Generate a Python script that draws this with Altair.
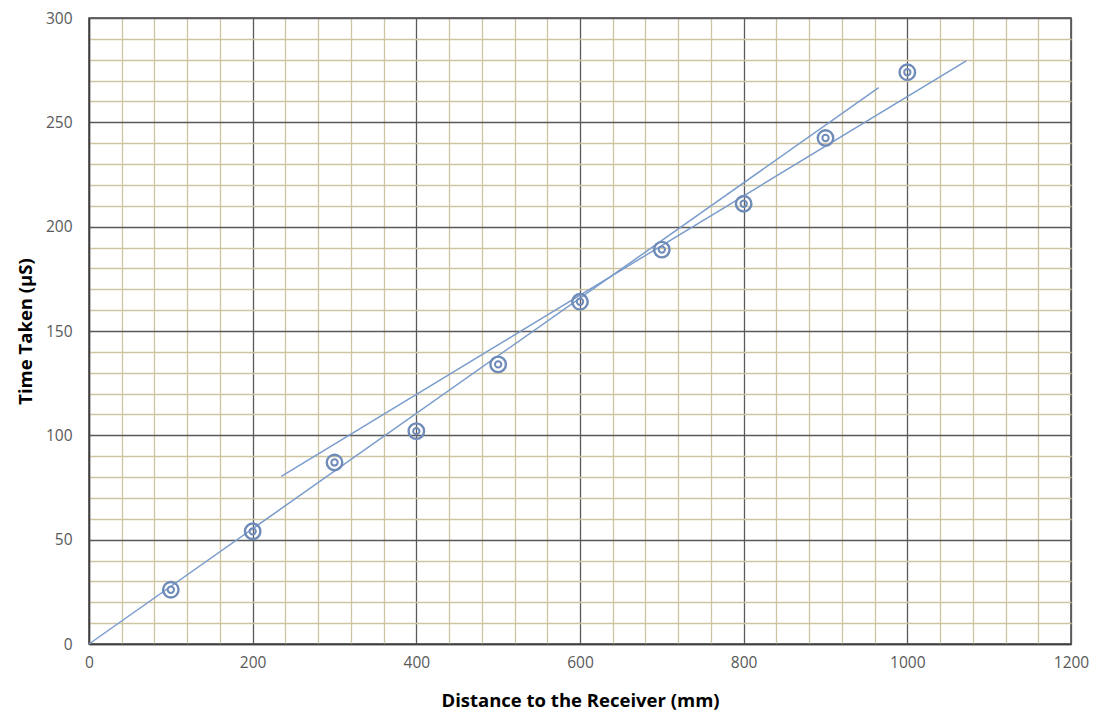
import altair as alt
import pandas as pd

distance = [100, 200, 300, 400, 500, 600, 700, 800, 900, 1000]
time_taken = [26, 54, 87, 102, 134, 164, 189, 211, 242.5, 274]

trend1_x = [0, 965]
trend1_y = [0, 266.6]
trend2_x = [235, 1072]
trend2_y = [80.3, 279.5]

x_ticks = list(range(0, 1201, 40))
y_ticks = list(range(0, 301, 10))

pts = pd.DataFrame({"d": distance, "t": time_taken})
lines = pd.DataFrame({
    "d": trend1_x + trend2_x,
    "t": trend1_y + trend2_y,
    "g": ["a", "a", "b", "b"],
})

major = "#5a5a5a"
minor = "#cdc5a2"
blue = "#7a9ccc"
mk = "#6f8bb8"

xscale = alt.Scale(domain=[0, 1200], nice=False, zero=True)
yscale = alt.Scale(domain=[0, 300], nice=False, zero=True)

xaxis = alt.Axis(
    values=x_ticks,
    tickCount=200,
    format="d",
    labelExpr="datum.value % 200 === 0 ? datum.label : ''",
    labelOverlap=False,
    labelFlush=False,
    title="Distance to the Receiver (mm)",
    grid=True,
    gridColor=alt.condition("datum.value % 200 === 0", alt.value(major), alt.value(minor)),
    gridWidth=1.3,
    ticks=False,
    domainColor="#404040",
    domainWidth=1.5,
    labelPadding=11,
    titlePadding=21,
)
yaxis = alt.Axis(
    values=y_ticks,
    tickCount=200,
    format="d",
    labelExpr="datum.value % 50 === 0 ? datum.label : ''",
    labelOverlap=False,
    labelFlush=False,
    title="Time Taken (µS)",
    grid=True,
    gridColor=alt.condition("datum.value % 50 === 0", alt.value(major), alt.value(minor)),
    gridWidth=1.3,
    ticks=False,
    domainColor="#404040",
    domainWidth=1.5,
    labelPadding=17,
    titlePadding=10,
)

base_lines = alt.Chart(lines).mark_line(color=blue, strokeWidth=1.5).encode(
    x=alt.X("d:Q", scale=xscale, axis=xaxis),
    y=alt.Y("t:Q", scale=yscale, axis=yaxis),
    detail="g:N",
)

outer = alt.Chart(pts).mark_point(shape="circle", size=240, strokeWidth=2.4, color=mk, filled=False, opacity=1).encode(
    x=alt.X("d:Q", scale=xscale),
    y=alt.Y("t:Q", scale=yscale),
)
inner = alt.Chart(pts).mark_point(shape="circle", size=40, strokeWidth=2, color=mk, filled=False, opacity=1).encode(
    x=alt.X("d:Q", scale=xscale),
    y=alt.Y("t:Q", scale=yscale),
)

chart = alt.layer(base_lines, outer, inner).properties(
    width=982,
    height=626,
    autosize=alt.AutoSizeParams(type="none"),
    padding={"left": 81, "top": 10, "right": 20, "bottom": 76},
).configure_axis(
    labelFont="Open Sans",
    labelFontSize=15.5,
    labelColor="#595959",
    titleFont="Open Sans",
    titleFontSize=18.5,
    titleFontWeight="bold",
    titleColor="#000000",
).configure_view(
    stroke="#404040",
    strokeWidth=1.5,
)

chart.save("out.html", embed_options={"renderer": "svg", "actions": False})
